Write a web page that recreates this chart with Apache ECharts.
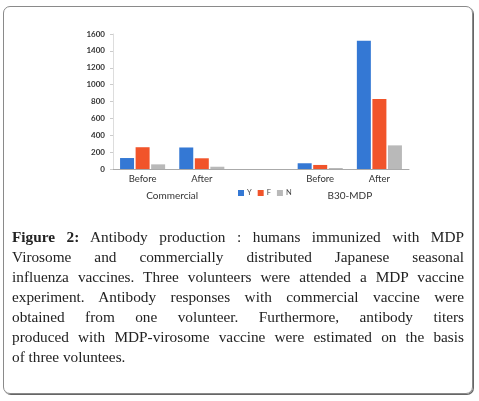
<!DOCTYPE html>
<html>
<head>
<meta charset="UTF-8">
<script src="https://cdn.jsdelivr.net/npm/echarts@6/dist/echarts.min.js"></script>
<style>
  html, body { margin: 0; padding: 0; background: #fff; }
  #frame {
    position: absolute; left: 3px; top: 6px; width: 468px; height: 386px;
    border: 1px solid #8a8a8a; border-radius: 7px;
    box-shadow: 1px 1px 0 #666;
  }
  #chartmain { position: absolute; left: 0; top: 0; width: 479px; height: 401px; }
  #caption {
    position: absolute; left: 12px; top: 227px; width: 452px;
    font-family: "Liberation Serif", serif; font-size: 15.3px; line-height: 20px; color: #222;
  }
  #caption div { text-align: justify; text-align-last: justify; }
  #caption div.last { text-align-last: left; }
  #caption b { font-weight: 600; }
</style>
</head>
<body>
<div id="frame"></div>
<div id="chartmain"></div>
<div id="caption">
  <div><b>Figure 2:</b> Antibody production : humans immunized with MDP</div>
  <div>Virosome and commercially distributed Japanese seasonal</div>
  <div>influenza vaccines. Three volunteers were attended a MDP vaccine</div>
  <div>experiment. Antibody responses with commercial vaccine were</div>
  <div>obtained from one volunteer. Furthermore, antibody titers</div>
  <div>produced with MDP-virosome vaccine were estimated on the basis</div>
  <div class="last">of three voluntees.</div>
</div>
<script type="text/javascript">
var categories = ['Before', 'After', '', 'Before', 'After'];
var seriesNames = ['Y', 'F', 'N'];
var yVals = [130, 255, null, 68, 1520];
var fVals = [258, 127, null, 48, 830];
var nVals = [55, 27, null, 12, 280];
var groupLabels = ['Commercial', 'B30-MDP'];
var groupSlots = [2, 8];   // half-category slots under each pair
var yTicks = [0, 200, 400, 600, 800, 1000, 1200, 1400, 1600];

var colors = ['#3478d4', '#f1542a', '#b9b9b9'];
var font = 'Lato, "Open Sans", sans-serif';

// second axis: 11 boundary slots, labels only under group centres
var groupAxis = [];
for (var i = 0; i < 11; i++) groupAxis.push('');
for (var g = 0; g < groupLabels.length; g++) groupAxis[groupSlots[g]] = groupLabels[g];

var allVals = [yVals, fVals, nVals];
var series = [];
for (var s = 0; s < seriesNames.length; s++) {
  series.push({
    name: seriesNames[s],
    type: 'bar',
    data: allVals[s],
    barWidth: 14,
    barGap: '11%',
    itemStyle: { color: colors[s] }
  });
}

var option = {
  animation: false,
  color: colors,
  legend: {
    data: seriesNames,
    left: 233, top: 184,
    itemWidth: 6, itemHeight: 6, itemGap: 6,
    icon: 'rect',
    textStyle: { fontSize: 7.5, color: '#444', fontFamily: font, padding: [0, 0, 0, -2] }
  },
  grid: { left: 113, right: 70, top: 34, bottom: 232 },
  xAxis: [
    {
      type: 'category',
      data: categories,
      axisLine: { lineStyle: { color: '#aaa', width: 1 } },
      axisTick: { show: false },
      axisLabel: { interval: 0, fontSize: 9.5, color: '#333', fontFamily: font, margin: 5 }
    },
    {
      type: 'category',
      data: groupAxis,
      boundaryGap: false,
      position: 'bottom',
      offset: 19,
      axisLine: { show: false },
      axisTick: { show: false },
      axisLabel: { interval: 0, fontSize: 10, color: '#333', fontFamily: font, margin: 3 }
    }
  ],
  yAxis: {
    type: 'value',
    min: yTicks[0],
    max: yTicks[yTicks.length - 1],
    interval: yTicks[1] - yTicks[0],
    axisLine: { show: true, lineStyle: { color: '#ddd' } },
    axisTick: { show: true, length: 3, lineStyle: { color: '#ccc' } },
    splitLine: { show: false },
    axisLabel: {
      fontSize: 8, color: '#333', fontWeight: 'bold', fontFamily: font, margin: 8,
      formatter: function (v) { return String(v); }
    }
  },
  series: series
};

var myChart = echarts.init(document.getElementById('chartmain'));
myChart.setOption(option);
</script>
</body>
</html>
